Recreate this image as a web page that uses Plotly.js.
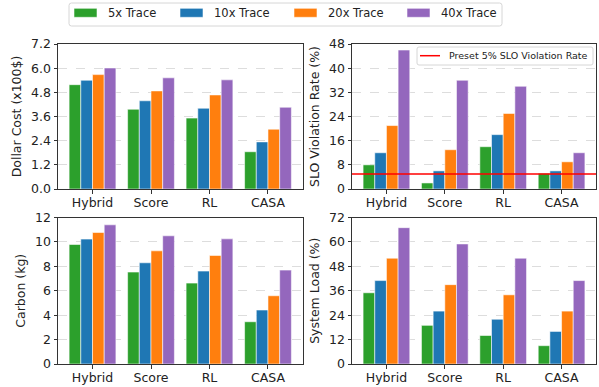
<!DOCTYPE html>
<html>
<head>
<meta charset="utf-8">
<script src="https://cdn.plot.ly/plotly-3.0.1.min.js"></script>
<style>
  html, body { margin: 0; padding: 0; background: #fff; }
  #chart { width: 599px; height: 387px; }
</style>
</head>
<body>
<div id="chart"></div>
<script>
// Schedulers compared and trace intensities
const schedulers = ['Hybrid', 'Score', 'RL', 'CASA'];
const traceNames = ['5x Trace', '10x Trace', '20x Trace', '40x Trace'];
const traceColors = ['#2ca02c', '#1f77b4', '#ff7f0e', '#9467bd'];

// Dollar cost (x100$), one array per trace intensity, ordered by scheduler
const cost5x  = [5.18, 3.96, 3.52, 1.85];
const cost10x = [5.40, 4.38, 4.01, 2.34];
const cost20x = [5.68, 4.87, 4.67, 2.97];
const cost40x = [6.01, 5.52, 5.42, 4.06];

// SLO violation rate (%)
const slo5x  = [8, 2, 14, 5.2];
const slo10x = [12, 6, 18, 6];
const slo20x = [21, 13, 25, 9];
const slo40x = [46, 36, 34, 12];
const sloTarget = 5;
const sloTargetLabel = 'Preset 5% SLO Violation Rate';

// Carbon (kg)
const carbon5x  = [9.79, 7.53, 6.63, 3.46];
const carbon10x = [10.23, 8.29, 7.61, 4.42];
const carbon20x = [10.77, 9.27, 8.89, 5.59];
const carbon40x = [11.40, 10.50, 10.25, 7.69];

// System load (%)
const load5x  = [35, 19, 14, 9];
const load10x = [41, 26, 22, 16];
const load20x = [52, 39, 34, 26];
const load40x = [67, 59, 52, 41];

// Panel definitions: axis suffix, series, y-axis title and ticks
const panels = [
  { ax: '',  series: [cost5x, cost10x, cost20x, cost40x],         title: 'Dollar Cost (x100$)',   yMax: 7.2, dtick: 1.2, fmt: '.1f' },
  { ax: '2', series: [slo5x, slo10x, slo20x, slo40x],             title: 'SLO Violation Rate (%)', yMax: 48,  dtick: 8,   fmt: 'd' },
  { ax: '3', series: [carbon5x, carbon10x, carbon20x, carbon40x], title: 'Carbon (kg)',           yMax: 12,  dtick: 2,   fmt: 'd' },
  { ax: '4', series: [load5x, load10x, load20x, load40x],         title: 'System Load (%)',       yMax: 72,  dtick: 12,  fmt: 'd' }
];

// Figure geometry (pixels)
const W = 599, H = 387;
const M = { l: 58, r: 3, t: 44, b: 23 };
const px2x = p => (p - M.l) / (W - M.l - M.r);
const py2y = p => (H - M.b - p) / (H - M.t - M.b);

const FONT = 'DejaVu Sans, Liberation Sans, sans-serif';
const INK = '#222';
const SPINE = '#333';

const colDomains = [[0, px2x(302.5)], [px2x(352), 1]];
const rowDomains = [[py2y(189), 1], [0, py2y(217.5)]];

const traces = [];
const layout = {
  width: W, height: H,
  margin: M,
  paper_bgcolor: '#ffffff',
  plot_bgcolor: '#ffffff',
  showlegend: false,
  barmode: 'group',
  bargap: 0.2,
  bargroupgap: 0,
  font: { family: FONT, size: 12.5, color: INK },
  shapes: [],
  annotations: []
};

panels.forEach((p, i) => {
  const xa = 'x' + p.ax, ya = 'y' + p.ax;
  p.series.forEach((vals, s) => {
    traces.push({
      type: 'bar',
      name: traceNames[s],
      x: schedulers,
      y: vals,
      xaxis: xa, yaxis: ya,
      marker: { color: traceColors[s], line: { color: 'rgba(255,255,255,0.55)', width: 1 } },
      hoverinfo: 'skip'
    });
  });
  const col = i % 2, row = Math.floor(i / 2);
  const axCommon = {
    showline: true, mirror: true, linecolor: SPINE, linewidth: 1,
    ticks: 'outside', ticklen: 3.5, tickwidth: 1, tickcolor: SPINE,
    tickfont: { family: FONT, size: 12.5, color: INK },
    zeroline: false
  };
  layout['xaxis' + p.ax] = Object.assign({}, axCommon, {
    domain: colDomains[col],
    anchor: ya,
    type: 'category',
    range: [-0.59, 3.59],
    showgrid: false,
    ticklabelstandoff: -2
  });
  layout['yaxis' + p.ax] = Object.assign({}, axCommon, {
    domain: rowDomains[row],
    anchor: xa,
    range: [0, p.yMax],
    tick0: 0, dtick: p.dtick,
    tickformat: p.fmt,
    showgrid: true, gridcolor: '#d4d4d4', griddash: 'dash', gridwidth: 0.8,
    title: { text: p.title, font: { family: FONT, size: 12.5, color: INK }, standoff: 6 }
  });
});

// SLO target reference line across the violation-rate panel
layout.shapes.push({
  type: 'line', xref: 'x2 domain', yref: 'y2',
  x0: 0, x1: 1, y0: sloTarget, y1: sloTarget,
  line: { color: '#ff0000', width: 1.5 }, layer: 'above'
});

// Rounded legend frame in paper coordinates
function frame(x0p, y0p, x1p, y1p, r) {
  const rx = r / (W - M.l - M.r), ry = r / (H - M.t - M.b);
  const x0 = px2x(x0p), x1 = px2x(x1p), yTop = py2y(y0p), yBot = py2y(y1p);
  const path = `M${x0 + rx},${yTop} L${x1 - rx},${yTop} Q${x1},${yTop} ${x1},${yTop - ry} ` +
               `L${x1},${yBot + ry} Q${x1},${yBot} ${x1 - rx},${yBot} L${x0 + rx},${yBot} ` +
               `Q${x0},${yBot} ${x0},${yBot + ry} L${x0},${yTop - ry} Q${x0},${yTop} ${x0 + rx},${yTop} Z`;
  return { type: 'path', xref: 'paper', yref: 'paper', path: path,
           line: { color: '#d6d6d6', width: 1 }, fillcolor: 'rgba(255,255,255,0.85)', layer: 'above' };
}

// Top legend: trace intensities
layout.shapes.push(frame(69, 3, 502, 26, 2.5));
const legendSlots = [74, 180, 294, 407];
traceNames.forEach((name, s) => {
  const x0 = legendSlots[s];
  layout.shapes.push({
    type: 'rect', xref: 'paper', yref: 'paper',
    x0: px2x(x0), x1: px2x(x0 + 23), y0: py2y(17.3), y1: py2y(8.3),
    fillcolor: traceColors[s], line: { color: 'rgba(255,255,255,0.55)', width: 1 }, layer: 'above'
  });
  layout.annotations.push({
    xref: 'paper', yref: 'paper', x: px2x(x0 + 32), y: py2y(13),
    xanchor: 'left', yanchor: 'middle', showarrow: false,
    text: name, font: { family: FONT, size: 11.5, color: INK }
  });
});

// Inset legend for the SLO target line
layout.shapes.push(frame(417, 47, 593, 65, 2));
layout.shapes.push({
  type: 'line', xref: 'paper', yref: 'paper',
  x0: px2x(420), x1: px2x(440), y0: py2y(55.7), y1: py2y(55.7),
  line: { color: '#ff0000', width: 1.5 }, layer: 'above'
});
layout.annotations.push({
  xref: 'paper', yref: 'paper', x: px2x(447), y: py2y(56),
  xanchor: 'left', yanchor: 'middle', showarrow: false,
  text: sloTargetLabel, font: { family: FONT, size: 9.5, color: INK }
});

Plotly.newPlot('chart', traces, layout, { staticPlot: true, displayModeBar: false });
</script>
</body>
</html>
